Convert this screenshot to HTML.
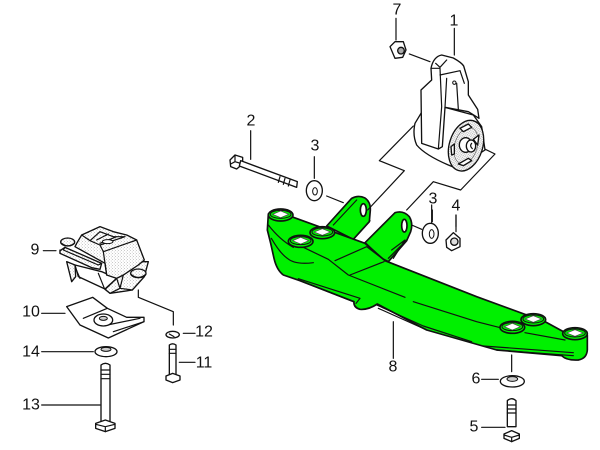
<!DOCTYPE html>
<html><head><meta charset="utf-8"><style>
html,body{margin:0;padding:0;background:#fff}
svg{display:block}
text{font-family:"Liberation Sans",sans-serif;font-size:16px;fill:#111;text-anchor:middle;dominant-baseline:central}
.a{fill:none;stroke:#111;stroke-width:3.6;stroke-linejoin:round;stroke-linecap:round}
.w{fill:#fff;stroke:#111;stroke-width:4;stroke-linejoin:round}
.g{fill:#00f000;stroke:#111;stroke-width:5;stroke-linejoin:round}
.d{fill:url(#dots);stroke:#111;stroke-width:4;stroke-linejoin:round}
.s{fill:url(#dots2);stroke:#111;stroke-width:4;stroke-linejoin:round}
</style></head><body>
<svg width="600" height="450" viewBox="0 0 600 450" xmlns="http://www.w3.org/2000/svg">
<defs>
<pattern id="dots" width="9" height="9" patternUnits="userSpaceOnUse"><rect width="9" height="9" fill="#fff"/><circle cx="2" cy="2" r="1.1" fill="#777"/><circle cx="6.5" cy="6" r="1.1" fill="#888"/></pattern>
<pattern id="dots2" width="7" height="7" patternUnits="userSpaceOnUse"><rect width="7" height="7" fill="#fff"/><circle cx="2" cy="2" r="1.2" fill="#666"/><circle cx="5.5" cy="5" r="1.2" fill="#777"/></pattern>
</defs>

<!-- crossmember -->
<g transform="translate(250,190) scale(.33333)">
<path class="g" d="M230 108L305 25Q325 14 345 24Q362 36 361 60L358 95L310 148Z"/>
<path class="g" d="M345 158L435 68Q460 60 478 80Q490 100 482 125L470 152L415 215L395 205Z"/>
<path class="g" d="M92 60Q70 60 55 72L52 120L62 160L72 205Q80 240 100 255L150 272L312 335Q310 352 330 358Q355 360 382 342L530 420L740 480L935 497Q950 512 985 510Q1010 506 1012 480L1012 435Q1005 422 975 420L940 425L885 395L680 320L405 212L345 160L130 82Z"/>
<path class="a" d="M55 105Q90 150 130 172M64 145Q90 190 112 205Q135 225 190 218M160 172L235 208L295 255L465 322M490 335L680 395L770 418M825 428L945 450M255 212L350 170L405 212M300 255L402 215"/>
<path class="a" d="M145 266L330 325L318 340M150 272L310 335M380 345L520 408L665 455M385 355L530 420M700 468L970 488M740 480L970 497M250 105L320 30M310 148L360 92M415 205L470 150M425 180L465 150L430 205"/>
<g class="g"><ellipse cx="92" cy="75" rx="37" ry="18"/><ellipse cx="217" cy="128" rx="37" ry="18"/><ellipse cx="152" cy="154" rx="37" ry="18"/><ellipse cx="850" cy="389" rx="37" ry="18"/><ellipse cx="787" cy="412" rx="37" ry="18"/><ellipse cx="975" cy="431" rx="37" ry="18"/></g>
<g fill="#00f000" stroke="#111" stroke-width="3"><ellipse cx="92" cy="73" rx="31" ry="12"/><ellipse cx="217" cy="126" rx="31" ry="12"/><ellipse cx="152" cy="152" rx="31" ry="12"/><ellipse cx="850" cy="387" rx="31" ry="12"/><ellipse cx="787" cy="410" rx="31" ry="12"/><ellipse cx="975" cy="429" rx="31" ry="12"/></g>
<g fill="#fff" stroke="#444" stroke-width="2"><path d="M68 73L92 63L116 73L92 83Z"/><path d="M193 126L217 116L241 126L217 136Z"/><path d="M128 152L152 142L176 152L152 162Z"/><path d="M826 387L850 377L874 387L850 397Z"/><path d="M763 410L787 400L811 410L787 420Z"/><path d="M951 429L975 419L999 429L975 439Z"/></g>
<ellipse cx="340" cy="60" rx="9" ry="19" fill="#fff" stroke="#111" stroke-width="5"/>
<ellipse cx="463" cy="107" rx="8" ry="19" fill="#fff" stroke="#111" stroke-width="5"/>
<!-- hardware -->
<path class="a" d="M485 105L515 118M547 60V95M618 75V125M430 395V505M785 495V545M695 568H745M695 712H765"/>
<ellipse cx="541" cy="130" rx="24" ry="30" class="w"/><ellipse cx="545" cy="132" rx="7" ry="13" fill="#fff" stroke="#111" stroke-width="3"/>
<path class="w" d="M588 150L610 128L630 145V170L605 182L590 172Z"/><circle cx="613" cy="155" r="11" fill="#ddd" stroke="#111" stroke-width="4"/>
<ellipse cx="787" cy="574" rx="36" ry="17" class="w"/><ellipse cx="787" cy="567" rx="16" ry="7" fill="#ccc" stroke="#111" stroke-width="3"/>
<path class="w" d="M772 632Q785 620 798 632V710H772Z"/><path class="a" d="M772 645H798M772 657H798M772 669H798"/>
<path class="w" d="M762 732L785 722L808 732V745L785 755L762 745Z"/><path class="a" d="M762 735L785 742L808 735M785 742V755"/>
</g>

<!-- connectors around mount 1 -->
<g transform="translate(220,0) scale(.33333)">
<path class="a" d="M528 55V120M703 85V165M568 162L630 185M92 392V478M283 470V535M320 588L370 608M635 615V670M708 645V680"/>
<path class="a" d="M580 378L478 482L553 512L443 630M560 630L640 545L722 570L825 462L790 445"/>
<path class="w" d="M510 140L525 125L550 125L558 150L548 172L525 175Z"/><circle cx="543" cy="152" r="10" fill="#aaa" stroke="#111" stroke-width="4"/>
<path class="w" d="M30 480L45 465L68 472V492L50 507L32 500Z"/><path class="a" d="M45 465L45 485L32 492M45 485L68 492"/>
<path class="w" d="M62 482L232 545L230 562L58 498Z"/><path class="a" d="M180 530L175 547M195 535L190 553M210 540L205 558"/>
<ellipse cx="283" cy="572" rx="24" ry="30" class="w"/><ellipse cx="285" cy="574" rx="7" ry="11" fill="#fff" stroke="#111" stroke-width="3"/>
</g>

<!-- mount 1 -->
<g transform="translate(405,50) scale(.33333)">
<path class="w" d="M30 220Q22 255 35 285Q60 315 130 345L155 355L240 300L230 230L205 195L120 172L60 170Z"/>
<path class="w" d="M78 55Q85 20 110 15L145 24Q170 38 176 48L190 95V135L218 178L222 205L190 185L120 172L112 290L100 297L50 280L48 120L80 90Z"/>
<path class="a" d="M78 55L105 55L110 170L100 297M92 40L105 52L125 30M105 75L165 62M125 85L120 172M165 62L178 100M155 100L160 178"/>
<circle cx="148" cy="98" r="5" fill="#fff" stroke="#111" stroke-width="3"/>
<ellipse cx="183" cy="287" rx="50" ry="78" transform="rotate(17 183 287)" class="s"/>
<ellipse cx="183" cy="287" rx="34" ry="56" transform="rotate(17 183 287)" fill="none" stroke="#666" stroke-width="2"/>
<ellipse cx="182" cy="285" rx="19" ry="22" fill="#fff" stroke="#111" stroke-width="4"/><ellipse cx="198" cy="288" rx="14" ry="18" fill="#fff" stroke="#111" stroke-width="4"/>
<path class="a" d="M200 280Q193 288 202 296"/>
<path class="w" d="M165 235L190 222L200 232L175 245ZM160 342L190 325L200 332L175 347ZM205 268L222 255L218 285ZM138 290L148 282L148 312L140 315Z"/>
</g>

<!-- gearbox mount 9 -->
<g transform="translate(55,220) scale(.33333)">
<path class="d" d="M35 125L50 185L62 170L60 135Z"/>
<path class="w" d="M60 135L140 155L185 175L150 207L70 170Z"/>
<path class="a" d="M62 145L75 175M130 160L148 205"/>
<path class="d" d="M150 208L185 175L205 165L260 125L280 125L268 170L232 210L165 220Z"/>
<path class="a" d="M205 165L195 205L165 220M185 175L195 205L232 210"/>
<path class="d" d="M65 70L80 45L135 20L175 35L215 45L245 60L268 120L250 135L205 165L185 175L155 165L150 130L60 80Z"/>
<path class="d" d="M15 92L30 82L140 130L135 148L110 143L15 100Z"/>
<path class="a" d="M30 82L25 90L130 135L140 130M15 100L15 90"/>
<path class="a" d="M80 45L105 62L135 75L210 50M105 62L135 35L175 50L210 50M135 75L145 95L155 165M145 95L245 60M125 60L160 42M135 70L185 50"/>
<ellipse cx="158" cy="65" rx="16" ry="6" fill="#fff" stroke="#111" stroke-width="3"/>
<ellipse cx="38" cy="66" rx="21" ry="12" class="d"/><path class="a" d="M20 70Q38 85 58 70"/>
<ellipse cx="250" cy="160" rx="23" ry="13" class="d"/><path class="a" d="M228 163Q250 182 272 163"/>
</g>

<!-- lower left -->
<g transform="translate(20,210) scale(.33333)">
<path class="w" d="M140 290L218 262L262 295L320 322L372 322L372 335L265 384L180 345Z"/>
<path class="a" d="M190 325L262 295M262 345L360 325M280 365L372 335"/>
<ellipse cx="250" cy="330" rx="28" ry="18" class="w"/><ellipse cx="250" cy="325" rx="12" ry="6" fill="#ccc" stroke="#111" stroke-width="3"/>
<ellipse cx="258" cy="425" rx="33" ry="15" class="w"/><ellipse cx="258" cy="418" rx="15" ry="6" fill="#ccc" stroke="#111" stroke-width="3"/>
<path class="w" d="M243 465Q256 455 270 465V635H243Z"/><path class="a" d="M243 480H270M243 493H270M243 506H270"/>
<path class="w" d="M227 640L256 630L285 640V655L256 665L227 655Z"/><path class="a" d="M227 643L256 650L285 643M256 650V665"/>
<path class="w" d="M448 405Q458 398 468 405V495H448Z"/><path class="a" d="M448 418H468M448 430H468"/>
<path class="w" d="M438 498L458 490L480 498V510L458 518L438 510Z"/>
<ellipse cx="458" cy="374" rx="20" ry="10" class="w"/><path class="a" d="M448 372L462 380"/>
<path class="a" d="M70 122H108M65 310H135M65 425H220M65 585H240M490 370H525M478 457H525M355 240V262L460 305V345"/>
</g>

<g>
<text x="397" y="10">7</text><text x="454" y="21">1</text><text x="251" y="121">2</text><text x="315" y="146">3</text>
<text x="433" y="199">3</text><text x="456" y="206">4</text><text x="35" y="250">9</text><text x="31" y="312">10</text>
<text x="204" y="332">12</text><text x="204" y="363">11</text><text x="31" y="352">14</text><text x="31" y="405">13</text>
<text x="393" y="367">8</text><text x="476" y="379">6</text><text x="474" y="427">5</text>
</g>
</svg>
</body></html>
